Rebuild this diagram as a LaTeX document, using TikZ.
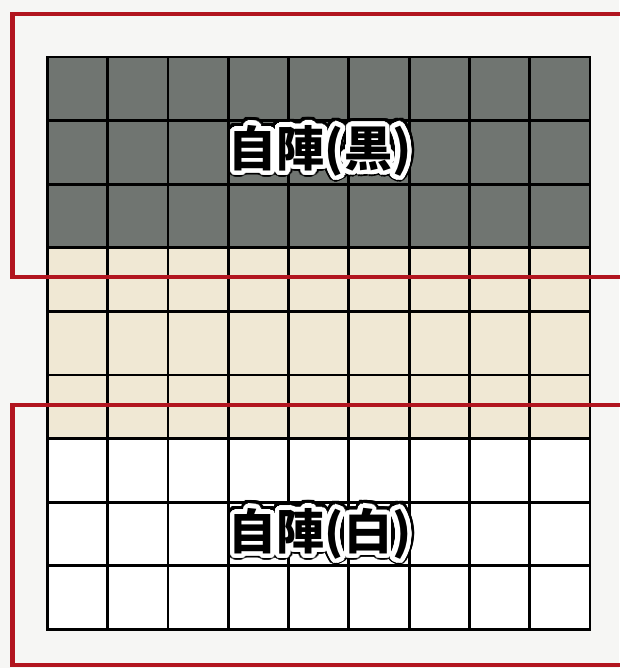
\documentclass[tikz,border=0pt]{standalone}
\usepackage{fontspec}
\newfontfamily\jp{Noto Sans CJK JP}
\usepackage{contour}
\contournumber{40}
\definecolor{bg}{RGB}{246,246,244}
\definecolor{darkcell}{RGB}{112,117,113}
\definecolor{beige}{RGB}{240,232,212}
\definecolor{framered}{RGB}{178,21,31}
\tikzset{
  gridline/.style={line width=2.8pt, black},
  redframe/.style={line width=4.3pt, framered, line join=miter},
  zonelabel/.style={font=\jp\bfseries\fontsize{48}{48}\selectfont, inner sep=0pt, anchor=center}
}
\newcommand{\outlinedlabel}[1]{%
  \contourlength{7pt}\contour{black}{#1}}
\newcommand{\whitelabel}[1]{%
  \contourlength{4.5pt}\contour{white}{#1}}
\begin{document}
\begin{tikzpicture}[x=1pt,y=-1pt]
\useasboundingbox[fill=bg] (0,0) rectangle (619,668);
% cell fills
\def\xa{47.5}\def\xb{590}
\def\ya{57}\def\yb{629.5}
\pgfmathsetmacro{\cw}{(\xb-\xa)/9}
\pgfmathsetmacro{\rh}{(\yb-\ya)/9}
\fill[darkcell] (\xa,\ya) rectangle (\xb,{\ya+3*\rh});
\fill[beige] (\xa,{\ya+3*\rh}) rectangle (\xb,{\ya+6*\rh});
\fill[white] (\xa,{\ya+6*\rh}) rectangle (\xb,\yb);
% grid
\foreach \i in {0,...,9}{
  \draw[gridline] ({\xa+\i*\cw},\ya) -- ({\xa+\i*\cw},\yb);
  \draw[gridline] (\xa,{\ya+\i*\rh}) -- (\xb,{\ya+\i*\rh});
}
\draw[gridline, line join=miter] (\xa,\ya) rectangle (\xb,\yb);
% red frames
\draw[redframe] (625,14) -- (12.5,14) -- (12.5,277) -- (625,277);
\draw[redframe] (625,405) -- (12.5,405) -- (12.5,665) -- (625,665);
% labels
\node[zonelabel] (blackrim) at (320,153) {\outlinedlabel{自陣(黒)}};
\node[zonelabel] (black) at (320,153) {\whitelabel{自陣(黒)}};
\node[zonelabel] (whiterim) at (320,536) {\outlinedlabel{自陣(白)}};
\node[zonelabel] (white) at (320,536) {\whitelabel{自陣(白)}};
\end{tikzpicture}
\end{document}
